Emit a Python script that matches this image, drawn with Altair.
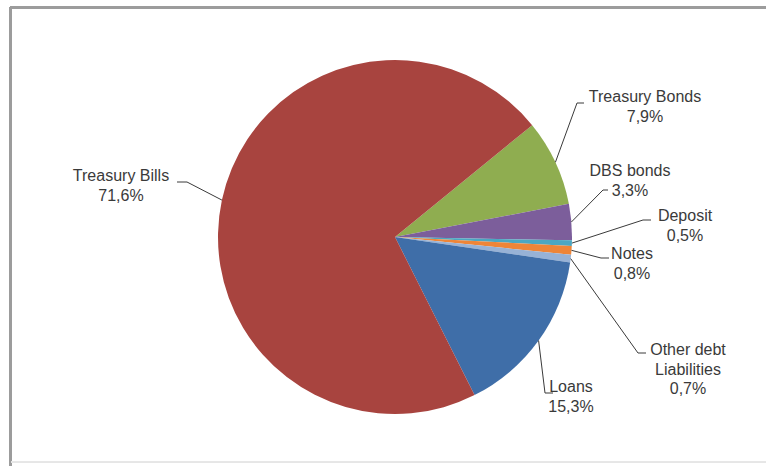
import math
import altair as alt
import pandas as pd

# ---- data ----
categories = ["Treasury Bonds", "DBS bonds", "Deposit", "Notes",
              "Other debt Liabilities", "Loans", "Treasury Bills"]
values = [7.9, 3.3, 0.5, 0.8, 0.7, 15.3, 71.6]
label_lines = ["Treasury  Bonds\n7,9%", "DBS bonds\n3,3%", "Deposit\n0,5%",
               "Notes\n0,8%", "Other debt\nLiabilities\n0,7%", "Loans\n15,3%",
               "Treasury  Bills\n71,6%"]
colors = ["#8FAD50", "#7C5E9B", "#4BA7C2", "#EE8538", "#97B2D6", "#3F6EA8", "#A8443F"]

# ---- layout (not data) ----
W, H = 766, 466
CX, CY, R = 395, 237, 177
START = math.radians(50.8)
label_pos = [(645, 97), (630, 171), (685, 216), (632, 254), (688, 350), (571, 387), (121, 176)]
elbows = [(577, 103), (603, 190), (643, 220), (601, 258), (638, 353), (545, 393), (187, 182)]
ends = [(584, 103), (608, 190), (651, 220), (609, 258), (646, 353), (553, 393), (177, 182)]

total = sum(values)
df = pd.DataFrame({"cat": categories, "val": values, "idx": range(len(values))})

rows = []
cum = 0.0
for i, (c, v) in enumerate(zip(categories, values)):
    mid = START + (cum + v / 2) / total * 2 * math.pi
    cum += v
    sx = CX + R * math.sin(mid)
    sy = CY - R * math.cos(mid)
    pts = [(sx, sy), elbows[i], ends[i]]
    for k, (px, py) in enumerate(pts):
        rows.append({"cat": c, "k": k, "x": px, "y": py})
lead = pd.DataFrame(rows)

labels = pd.DataFrame({"cat": categories, "txt": label_lines,
                       "x": [p[0] for p in label_pos], "y": [p[1] for p in label_pos]})

xs = alt.Scale(domain=[0, W], range=[0, W], nice=False, zero=False)
ys = alt.Scale(domain=[0, H], range=[0, H], nice=False, zero=False)

pie = alt.Chart(df).mark_arc(outerRadius=R, stroke=None).encode(
    theta=alt.Theta("val:Q", stack=True,
                    scale=alt.Scale(range=[START, START + 2 * math.pi])),
    color=alt.Color("cat:N", scale=alt.Scale(domain=categories, range=colors), legend=None),
    order=alt.Order("idx:Q"),
    x=alt.value(CX), y=alt.value(CY),
)

lines = alt.Chart(lead).mark_line(color="#3a3a3a", strokeWidth=1).encode(
    x=alt.X("x:Q", scale=xs, axis=None),
    y=alt.Y("y:Q", scale=ys, axis=None),
    detail="cat:N",
    order="k:Q",
)

text = alt.Chart(labels).mark_text(
    font="Liberation Sans", fontSize=16, color="#3a3a3a", align="center",
    baseline="middle", lineBreak="\n", lineHeight=19.5,
).encode(
    x=alt.X("x:Q", scale=xs, axis=None),
    y=alt.Y("y:Q", scale=ys, axis=None),
    text="txt:N",
)

frame_left = alt.Chart(df).mark_rule(color="#9c9c9c", strokeWidth=2).encode(
    x=alt.value(10.5), y=alt.value(7), y2=alt.value(H))
frame_top = alt.Chart(df).mark_rule(color="#9c9c9c", strokeWidth=2).encode(
    x=alt.value(10), x2=alt.value(W), y=alt.value(7.5))
frame_bottom = alt.Chart(df).mark_rule(color="#e6e6e6", strokeWidth=1).encode(
    x=alt.value(11), x2=alt.value(W), y=alt.value(462))

chart = alt.layer(frame_left, frame_top, frame_bottom, pie, lines, text).properties(
    width=W, height=H, autosize=alt.AutoSizeParams(type="none"), padding=0,
    background="white",
).configure_view(stroke=None)

chart.save("out.html", embed_options={"renderer": "svg", "actions": False})
